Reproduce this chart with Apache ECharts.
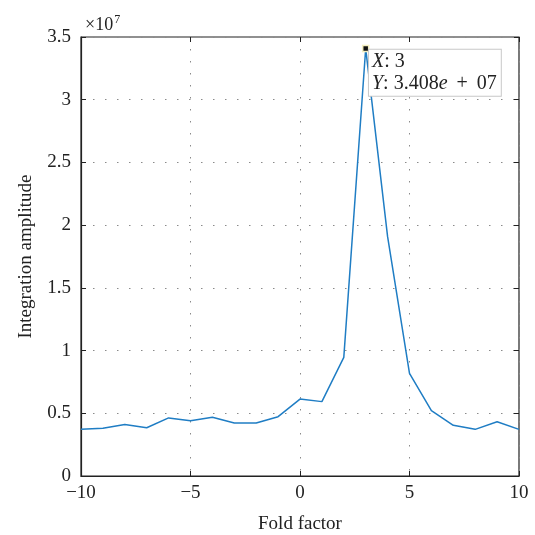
<!DOCTYPE html>
<html>
<head>
<meta charset="utf-8">
<script src="https://cdn.jsdelivr.net/npm/echarts@6/dist/echarts.min.js"></script>
<style>
  html, body { margin: 0; padding: 0; background: #fff; }
  #container1 { width: 535px; height: 535px; }
</style>
</head>
<body>
<div id="container1"></div>
<script>
// fold factor and integration amplitude (in units of 1e7)
var foldFactor = [-10, -9, -8, -7, -6, -5, -4, -3, -2, -1, 0, 1, 2, 3, 4, 5, 6, 7, 8, 9, 10];
var amplitude = [0.372, 0.38, 0.41, 0.385, 0.463, 0.441, 0.468, 0.423, 0.423, 0.473, 0.613,
                 0.593, 0.946, 3.408, 1.908, 0.819, 0.521, 0.404, 0.372, 0.433, 0.372];
var peak = [3, 3.408];

var serif = '"Liberation Serif", "DejaVu Serif", serif';
var fs = 19;

var myChart = echarts.init(document.getElementById('container1'));

var gridDots = { color: '#8a8a8a', width: 1, type: [1.5, 10.5] };

function minus(v) { return String(v).replace('-', '\u2212'); }

var option = {
    backgroundColor: '#fff',
    animation: false,
    textStyle: { fontFamily: serif },
    title: {
        text: '{a|×10}{b|7}',
        left: 80, top: 9,
        textStyle: {
            fontWeight: 'normal',
            rich: {
                a: { fontFamily: serif, fontSize: 18, color: '#222', fontWeight: 'normal' },
                b: { fontFamily: serif, fontSize: 12, color: '#222', fontWeight: 'normal', padding: [0, 0, 10, 1] }
            }
        }
    },
    grid: {
        left: 81, right: 16, top: 37, bottom: 59,
        outerBoundsMode: 'none', containLabel: false,
        show: true, borderColor: '#222', borderWidth: 1.2
    },
    xAxis: [{
        type: 'value', min: -10, max: 10, interval: 5,
        name: 'Fold factor', nameLocation: 'middle', nameGap: 39,
        nameTextStyle: { fontFamily: serif, fontSize: fs, color: '#222' },
        axisLine: { show: true, onZero: false, lineStyle: { color: '#222', width: 1.2 } },
        axisTick: { show: true, inside: true, length: 5, lineStyle: { color: '#222' } },
        axisLabel: { fontFamily: serif, fontSize: fs, color: '#222', margin: 8, formatter: minus },
        splitLine: { show: true, lineStyle: gridDots }
    }, {
        type: 'value', min: -10, max: 10, interval: 5, position: 'top',
        axisLine: { show: false, onZero: false },
        axisTick: { show: true, inside: true, length: 5, lineStyle: { color: '#222' } },
        axisLabel: { show: false },
        splitLine: { show: false }
    }],
    yAxis: [{
        type: 'value', min: 0, max: 3.5, interval: 0.5,
        name: 'Integration amplitude', nameLocation: 'middle', nameGap: 45,
        nameTextStyle: { fontFamily: serif, fontSize: fs, color: '#222' },
        axisLine: { show: true, onZero: false, lineStyle: { color: '#222', width: 1.2 } },
        axisTick: { show: true, inside: true, length: 5, lineStyle: { color: '#222' } },
        axisLabel: { fontFamily: serif, fontSize: fs, color: '#222', margin: 10 },
        splitLine: { show: true, lineStyle: gridDots }
    }, {
        type: 'value', min: 0, max: 3.5, interval: 0.5, position: 'right',
        axisLine: { show: false, onZero: false },
        axisTick: { show: true, inside: true, length: 5, lineStyle: { color: '#222' } },
        axisLabel: { show: false },
        splitLine: { show: false }
    }],
    series: [{
        name: 'amplitude',
        type: 'line',
        data: foldFactor.map(function (x, i) { return [x, amplitude[i]]; }),
        showSymbol: false,
        lineStyle: { color: '#1f7dc4', width: 1.5 },
        itemStyle: { color: '#1f7dc4' },
        markPoint: {
            symbol: 'rect',
            symbolSize: 6,
            itemStyle: { color: '#111', borderColor: '#f3eec0', borderWidth: 1.5 },
            data: [{ coord: peak }],
            label: {
                show: true,
                position: [7, 5],
                formatter: '{i|X}{t|: ' + peak[0] + '}\n{i|Y}{t|: ' + peak[1] + '}{i|e}{t| \u2009+\u2009 07}',
                backgroundColor: '#fff',
                borderColor: '#c8c8c8',
                borderWidth: 1,
                padding: [1, 4, 1, 3],
                rich: {
                    i: { fontFamily: serif, fontStyle: 'italic', fontSize: 20, color: '#222', lineHeight: 22 },
                    t: { fontFamily: serif, fontSize: 20, color: '#222', lineHeight: 22 }
                }
            }
        }
    }]
};
myChart.setOption(option, true);
</script>
</body>
</html>
